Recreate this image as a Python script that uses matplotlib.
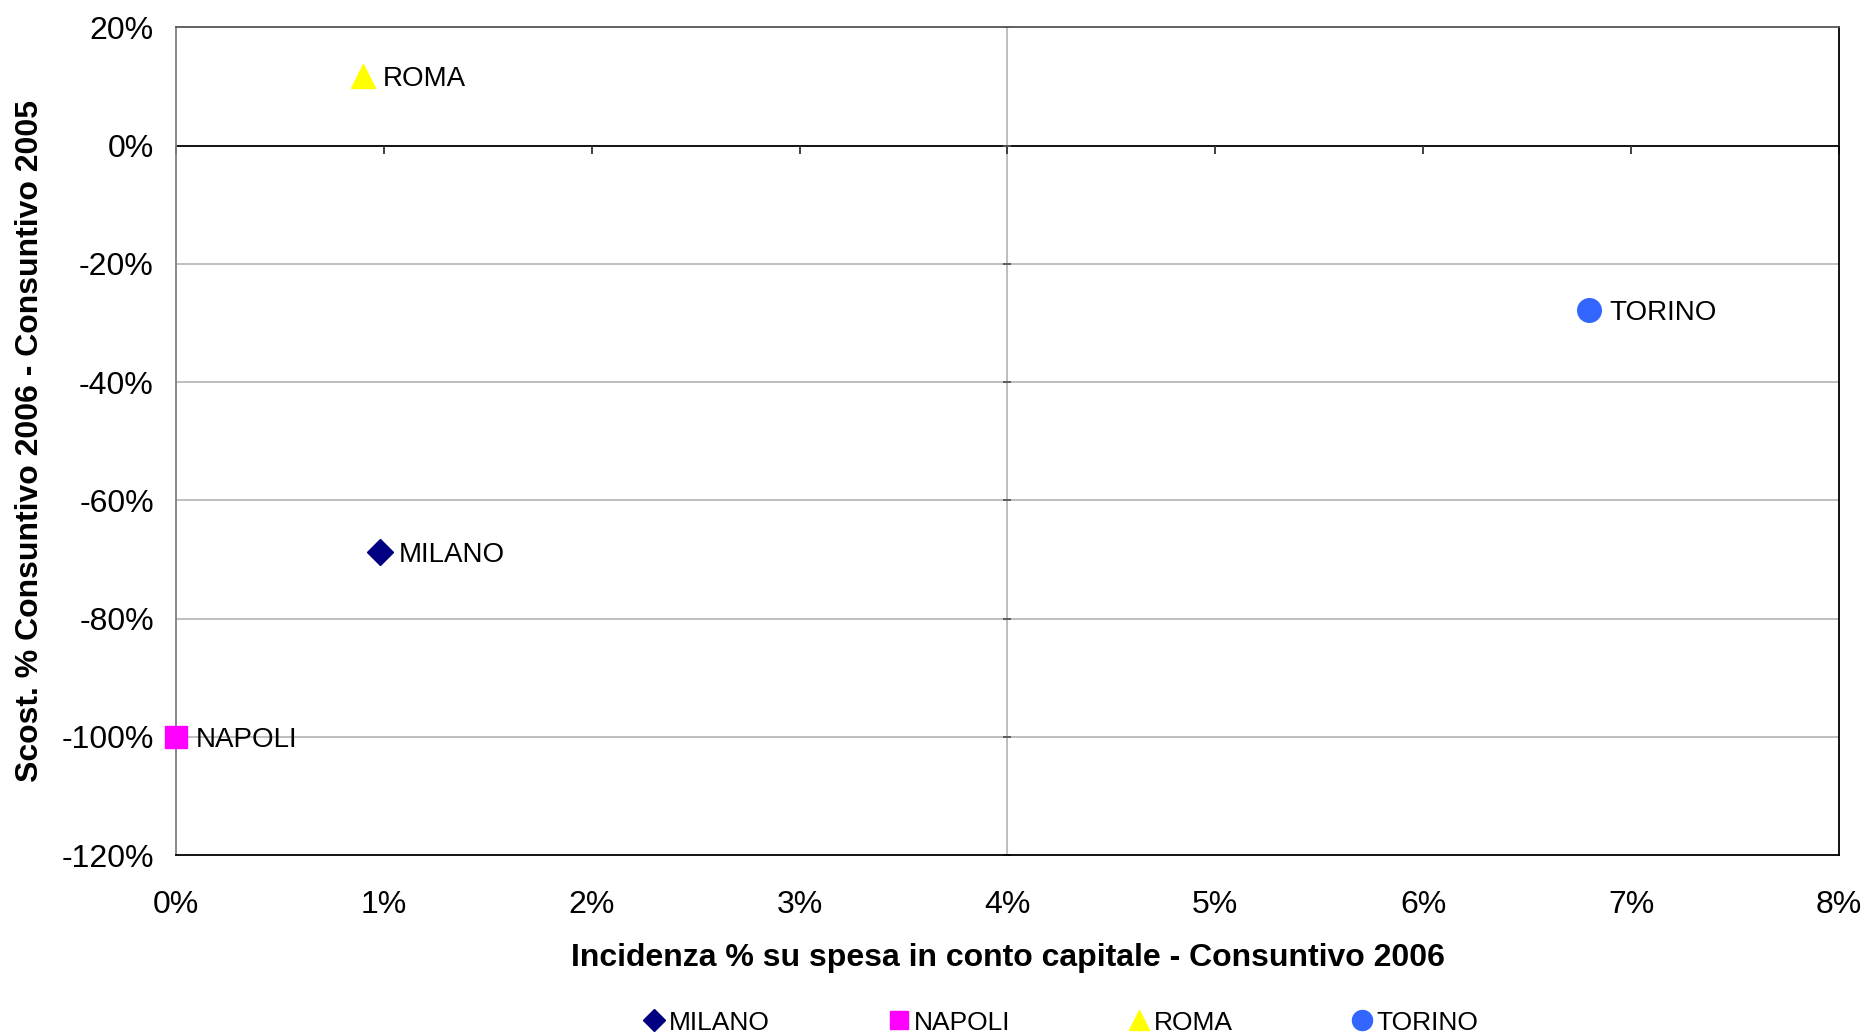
import matplotlib.pyplot as plt
import numpy as np
from matplotlib.ticker import FuncFormatter

plt.rcParams['font.family'] = ['Liberation Sans', 'DejaVu Sans']

cities = ['MILANO', 'NAPOLI', 'ROMA', 'TORINO']
incidenza = [0.0098, 0.0, 0.0090, 0.0680]
scostamento = [-0.688, -1.00, 0.117, -0.278]
markers = ['D', 's', '^', 'o']
colors = ['#000080', '#FF00FF', '#FFFF00', '#3366FF']
sizes = [13, 16, 17, 17]

xticks = np.arange(0, 0.081, 0.01)
yticks = np.arange(-1.2, 0.21, 0.2)


def pct(v, pos):
    # plain hyphen like excel, avoid "-0%"
    return '%d%%' % int(round(v * 100)) if abs(v) > 1e-9 else '0%'


fig = plt.figure(figsize=(18.65, 10.36), dpi=100)
ax = fig.add_axes([0.0944, 0.1747, 0.8916, 0.7989])

ax.set_xlim(0, 0.08)
ax.set_ylim(-1.2, 0.2)

# gridlines + crossing axes (excel style)
for t in yticks:
    if -1.2 < t < -0.01:
        ax.axhline(t, color='#b3b3b3', lw=1.2, zorder=1)
ax.axvline(0.04, color='#b3b3b3', lw=1.2, zorder=1)
ax.axhline(0, color='black', lw=1.3, zorder=2)
ax.plot(xticks, np.zeros_like(xticks), ls='none', marker=3, ms=6, mew=1.3,
        color='#333333', zorder=2, clip_on=False)
ax.plot(np.full_like(yticks, 0.04), yticks, ls='none', marker='_', ms=6, mew=1.3,
        color='#555555', zorder=2)

for name, x, y, m, c, s in zip(cities, incidenza, scostamento, markers, colors, sizes):
    ax.plot([x], [y], ls='none', marker=m, ms=s, color=c, mec=c, label=name,
            zorder=4, clip_on=False)
    ax.annotate(name, (x, y), xytext=(14, 0), textcoords='offset points',
                va='center_baseline', ha='left', fontsize=20, zorder=5)

ax.set_xticks(xticks)
ax.set_yticks(yticks)
ax.xaxis.set_major_formatter(FuncFormatter(pct))
ax.yaxis.set_major_formatter(FuncFormatter(pct))
ax.tick_params(axis='both', length=0, labelsize=23)
ax.tick_params(axis='x', pad=25)
ax.tick_params(axis='y', pad=16)

for side in ['top', 'right', 'bottom']:
    ax.spines[side].set_color('black')
ax.spines['top'].set_color('#555555')
ax.spines['left'].set_color('#808080')
for sp in ax.spines.values():
    sp.set_linewidth(1.3)

ax.set_xlabel('Incidenza % su spesa in conto capitale - Consuntivo 2006',
              fontsize=23, fontweight='bold', labelpad=17)
ax.set_ylabel('Scost. % Consuntivo 2006 - Consuntivo 2005',
              fontsize=23, fontweight='bold', labelpad=11.5)

fig.legend(loc='center', bbox_to_anchor=(0.568, 0.013), ncol=4, frameon=False,
           fontsize=19, handletextpad=0.0, columnspacing=4.35, markerscale=0.85,
           handlelength=1.1)

fig.savefig('out.png', dpi=100)
